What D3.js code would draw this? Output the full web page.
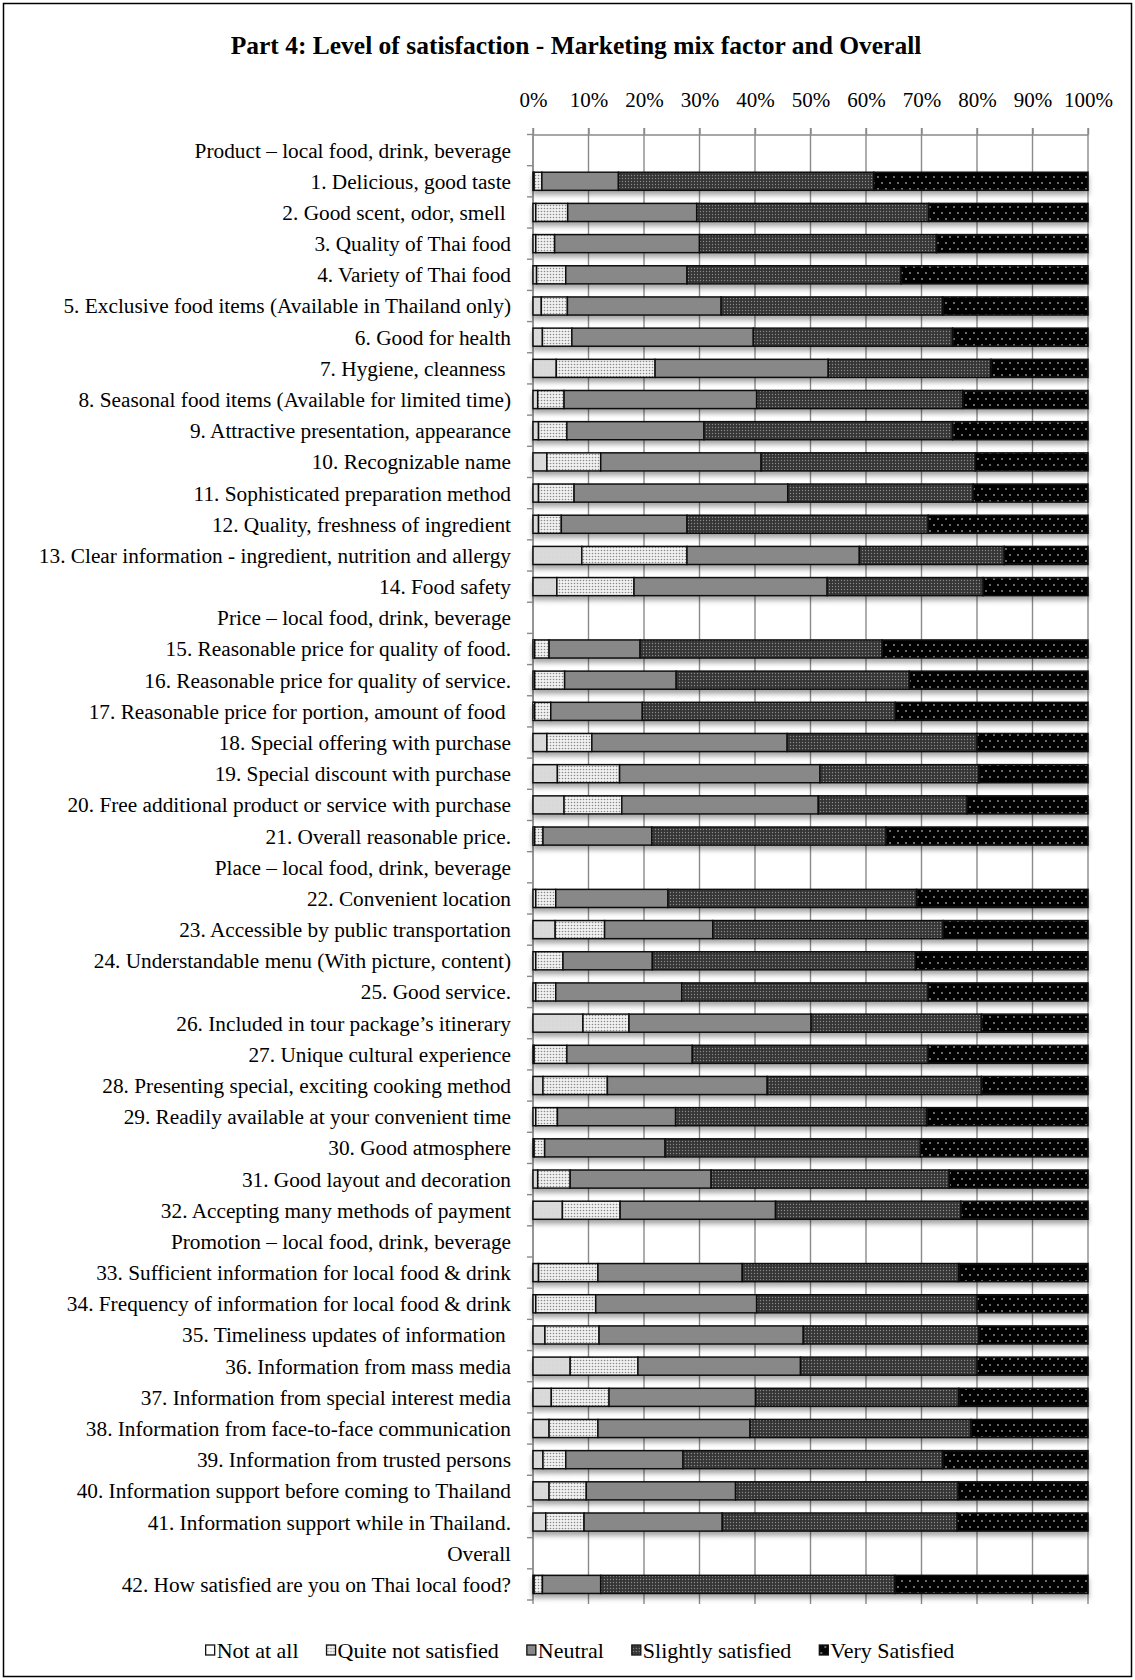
<!DOCTYPE html>
<html>
<head>
<meta charset="utf-8">
<script src="https://cdn.jsdelivr.net/npm/d3@7"></script>
<style>
  body { margin: 0; background: #fff; }
  svg text { font-family: "Liberation Serif", "Times New Roman", Times, serif; fill: #000; }
</style>
</head>
<body>
<svg id="chart" width="1135" height="1680"></svg>
<script>
// Survey items (section headings carry no bar)
const categories = [
  "Product \u2013 local food, drink, beverage",
  "1. Delicious, good taste",
  "2. Good scent, odor, smell ",
  "3. Quality of Thai food",
  "4. Variety of Thai food",
  "5. Exclusive food items (Available in Thailand only)",
  "6. Good for health",
  "7. Hygiene, cleanness ",
  "8. Seasonal food items (Available for limited time)",
  "9. Attractive presentation, appearance",
  "10. Recognizable name",
  "11. Sophisticated preparation method",
  "12. Quality, freshness of ingredient",
  "13. Clear information - ingredient, nutrition and allergy",
  "14. Food safety",
  "Price \u2013 local food, drink, beverage",
  "15. Reasonable price for quality of food.",
  "16. Reasonable price for quality of service.",
  "17. Reasonable price for portion, amount of food ",
  "18. Special offering with purchase",
  "19. Special discount with purchase",
  "20. Free additional product or service with purchase",
  "21. Overall reasonable price.",
  "Place \u2013 local food, drink, beverage",
  "22. Convenient location",
  "23. Accessible by public transportation",
  "24. Understandable menu (With picture, content)",
  "25. Good service.",
  "26. Included in tour package\u2019s itinerary",
  "27. Unique cultural experience",
  "28. Presenting special, exciting cooking method",
  "29. Readily available at your convenient time",
  "30. Good atmosphere",
  "31. Good layout and decoration",
  "32. Accepting many methods of payment",
  "Promotion \u2013 local food, drink, beverage",
  "33. Sufficient information for local food & drink",
  "34. Frequency of information for local food & drink",
  "35. Timeliness updates of information ",
  "36. Information from mass media",
  "37. Information from special interest media",
  "38. Information from face-to-face communication",
  "39. Information from trusted persons",
  "40. Information support before coming to Thailand",
  "41. Information support while in Thailand.",
  "Overall",
  "42. How satisfied are you on Thai local food?"
];

// Share of respondents (%) per satisfaction level; null = section heading
const notAtAll = [null,
  0.2, 0.5, 0.5, 0.65, 1.5, 1.7, 4.2, 0.85, 1.0, 2.5, 1.0, 1.0, 8.8, 4.3,
  null,
  0.3, 0.3, 0.3, 2.5, 4.4, 5.6, 0.3,
  null,
  0.5, 4.0, 0.5, 0.5, 9.0, 0.2, 1.8, 0.5, 0.2, 0.85, 5.3,
  null,
  1.0, 0.5, 2.15, 6.7, 3.3, 2.9, 1.8, 2.9, 2.3,
  null,
  0.2];
const quiteNot = [null,
  1.4, 5.75, 3.4, 5.25, 4.7, 5.3, 17.8, 4.75, 5.1, 9.7, 6.4, 4.1, 18.95, 13.9,
  null,
  2.6, 5.4, 2.9, 8.1, 11.2, 10.4, 1.5,
  null,
  3.6, 8.9, 4.9, 3.6, 8.3, 5.9, 11.6, 3.9, 1.9, 5.85, 10.4,
  null,
  10.7, 10.8, 9.75, 12.2, 10.4, 8.8, 4.1, 6.7, 6.9,
  null,
  1.5];
const neutral = [null,
  13.8, 23.25, 26.1, 21.85, 27.7, 32.7, 31.2, 34.7, 24.7, 28.9, 38.5, 22.65, 31.05, 34.8,
  null,
  16.4, 20.1, 16.5, 35.2, 36.1, 35.4, 19.6,
  null,
  20.2, 19.5, 16.1, 22.7, 32.8, 22.6, 28.8, 21.3, 21.7, 25.4, 28.0,
  null,
  26.0, 29.0, 36.8, 29.3, 26.4, 27.4, 21.1, 26.9, 24.9,
  null,
  10.5];
const slightly = [null,
  46.0, 41.8, 42.7, 38.55, 39.9, 35.9, 29.3, 37.1, 44.8, 38.6, 33.4, 43.45, 26.1, 28.1,
  null,
  43.6, 42.0, 45.6, 34.2, 28.6, 26.8, 42.2,
  null,
  44.8, 41.5, 47.4, 44.4, 30.7, 42.5, 38.6, 45.2, 46.0, 42.9, 33.4,
  null,
  39.0, 39.7, 31.6, 31.8, 36.6, 39.8, 46.8, 40.1, 42.3,
  null,
  53.0];
const very = [null,
  38.6, 28.7, 27.3, 33.7, 26.2, 24.4, 17.5, 22.6, 24.4, 20.3, 20.7, 28.8, 15.1, 18.9,
  null,
  37.1, 32.2, 34.7, 20.0, 19.7, 21.8, 36.4,
  null,
  30.9, 26.1, 31.1, 28.8, 19.2, 28.8, 19.2, 29.1, 30.2, 25.0, 22.9,
  null,
  23.3, 20.0, 19.7, 20.0, 23.3, 21.1, 26.2, 23.4, 23.6,
  null,
  34.8];

const seriesNames = ["Not at all", "Quite not satisfied", "Neutral", "Slightly satisfied", "Very Satisfied"];
const seriesValues = [notAtAll, quiteNot, neutral, slightly, very];
const tickValues = [0, 10, 20, 30, 40, 50, 60, 70, 80, 90, 100];

const svg = d3.select("#chart");
const defs = svg.append("defs");

// Fill textures for each satisfaction level
function dotPattern(id, w, h, bg, dotColor, r, dots) {
  const p = defs.append("pattern").attr("id", id)
    .attr("patternUnits", "userSpaceOnUse").attr("width", w).attr("height", h);
  p.append("rect").attr("width", w).attr("height", h).attr("fill", bg);
  dots.forEach(([cx, cy]) => p.append("circle").attr("cx", cx).attr("cy", cy).attr("r", r).attr("fill", dotColor));
}
dotPattern("fill-0", 4, 4, "#dadada", "#cfcfcf", 0.5, [[1, 1]]);
dotPattern("fill-1", 3, 3, "#f1f1f1", "#8a8a8a", 0.8, [[1.5, 1.5]]);
dotPattern("fill-2", 2, 2, "#838383", "#9c9c9c", 0.55, [[1, 1]]);
dotPattern("fill-3", 3, 3, "#363636", "#8a8a8a", 0.7, [[1.5, 1.5]]);
dotPattern("fill-4", 8, 12, "#050505", "#9a9a9a", 0.9, [[2, 3], [6, 9]]);
const fills = d3.range(5).map(i => `url(#fill-${i})`);

const shadow = defs.append("filter").attr("id", "bar-shadow")
  .attr("x", "-2%").attr("y", "-40%").attr("width", "104%").attr("height", "200%");
shadow.append("feDropShadow").attr("dx", 0).attr("dy", 4).attr("stdDeviation", 2.5)
  .attr("flood-color", "#000").attr("flood-opacity", 0.35);

// Outer frame
svg.append("rect").attr("x", 3.5).attr("y", 3.5).attr("width", 1128).attr("height", 1673)
  .attr("fill", "none").attr("stroke", "#000").attr("stroke-width", 1.5);

// Title
svg.append("text").attr("x", 576).attr("y", 45).attr("dy", "0.35em")
  .attr("text-anchor", "middle").attr("font-size", 25.5).attr("font-weight", "bold")
  .text("Part 4: Level of satisfaction - Marketing mix factor and Overall");

const plotTop = 134.5, plotBottom = 1600;
const x = d3.scaleLinear().domain([0, 100]).range([533, 1088]);
const y = d3.scaleBand().domain(d3.range(categories.length))
  .range([plotTop, plotBottom]).paddingInner(0.42).paddingOuter(0.21);
const step = y.step();

// Vertical gridlines
svg.append("g").selectAll("line").data(tickValues).join("line")
  .attr("x1", d => x(d)).attr("x2", d => x(d))
  .attr("y1", plotTop - 6.5).attr("y2", plotBottom + 4)
  .attr("stroke", "#8a8a8a").attr("stroke-width", 1.4);

// Top percentage axis
const xAxis = svg.append("g").attr("transform", `translate(0,${plotTop})`)
  .call(d3.axisTop(x).tickValues(tickValues).tickFormat(d => d + "%").tickSizeInner(6.5).tickSizeOuter(0).tickPadding(21));
xAxis.select(".domain").attr("stroke", "#8a8a8a").attr("stroke-width", 1.4);
xAxis.selectAll(".tick line").attr("stroke", "#8a8a8a").attr("stroke-width", 1.4);
xAxis.selectAll(".tick text").attr("font-size", 21).attr("font-family", null).attr("fill", "#000");

// Category axis with ticks between rows
const yAxis = svg.append("g");
yAxis.append("line").attr("x1", x(0)).attr("x2", x(0)).attr("y1", plotTop).attr("y2", plotBottom)
  .attr("stroke", "#8a8a8a").attr("stroke-width", 1.4);
yAxis.selectAll(".row-tick").data(d3.range(categories.length + 1)).join("line")
  .attr("class", "row-tick")
  .attr("x1", x(0) - 6).attr("x2", x(0))
  .attr("y1", i => plotTop + i * step).attr("y2", i => plotTop + i * step)
  .attr("stroke", "#8a8a8a").attr("stroke-width", 1.4);
yAxis.selectAll("text").data(categories).join("text")
  .attr("x", 511).attr("y", (d, i) => y(i) + y.bandwidth() / 2).attr("dy", "0.35em")
  .attr("text-anchor", "end").attr("font-size", 21.3)
  .style("white-space", "pre")
  .text(d => d);

// Stacked bars
const rows = categories.map((c, i) => {
  const r = { i };
  seriesValues.forEach((s, k) => r[k] = s[i] == null ? 0 : s[i]);
  r.header = notAtAll[i] == null;
  return r;
}).filter(r => !r.header);
const stacked = d3.stack().keys(d3.range(5))(rows);

const barRows = svg.append("g").selectAll("g.bar").data(rows).join("g")
  .attr("class", "bar").attr("filter", "url(#bar-shadow)");
barRows.each(function (row, ri) {
  d3.select(this).selectAll("rect").data(stacked.map((layer, k) => ({ k, v0: layer[ri][0], v1: layer[ri][1] })))
    .join("rect")
    .attr("x", d => x(d.v0)).attr("width", d => Math.max(0, x(d.v1) - x(d.v0)))
    .attr("y", y(row.i)).attr("height", y.bandwidth())
    .attr("fill", d => fills[d.k])
    .attr("stroke", "#111").attr("stroke-width", 1.5);
});

// Legend
const legend = svg.append("g").attr("transform", "translate(0,1650)");
const items = legend.selectAll("g").data(seriesNames).join("g");
items.append("rect").attr("x", 0).attr("y", -5).attr("width", 9).attr("height", 10)
  .attr("fill", (d, i) => i === 0 ? "#fff" : fills[i]).attr("stroke", "#111").attr("stroke-width", 1.3);
items.append("text").attr("x", 11).attr("dy", "0.35em").attr("font-size", 22).text(d => d);
let cursor = 0;
const offsets = [];
items.each(function () {
  offsets.push(cursor);
  cursor += 11 + this.querySelector("text").getComputedTextLength() + 28;
});
const totalW = cursor - 28;
const startX = 580 - totalW / 2;
items.attr("transform", (d, i) => `translate(${startX + offsets[i]},0)`);
</script>
</body>
</html>
